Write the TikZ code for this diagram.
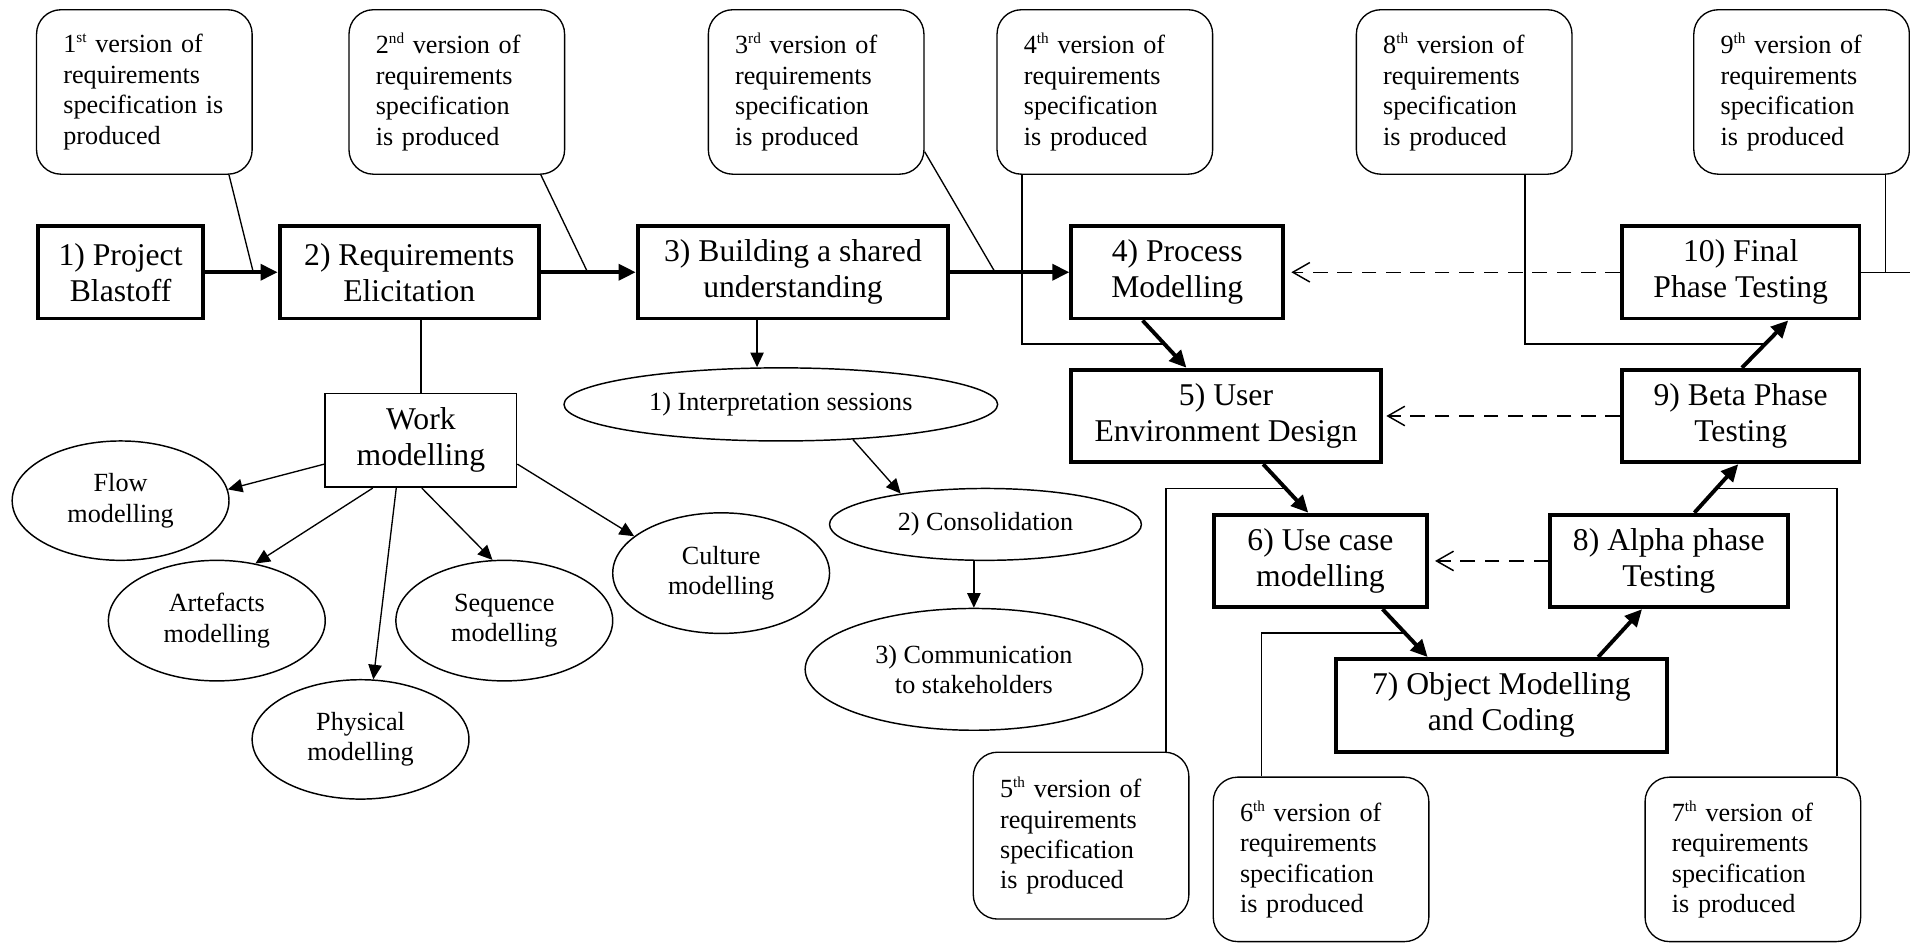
\documentclass[tikz,border=0pt]{standalone}
\usepackage{fontspec}
\setmainfont{Liberation Serif}
\usetikzlibrary{arrows.meta,shapes.geometric,calc}
\newcommand\ordsup[1]{\raisebox{8.5pt}{\fontsize{12.5}{12.5}\selectfont #1}}
\begin{document}
\begin{tikzpicture}[x=1pt,y=-1pt,
  stepbox/.style={draw, line width=3.2pt, minimum width=#1, minimum height=76pt, inner sep=0pt, align=center, font=\fontsize{26}{29.5}\selectfont},
  workbox/.style={draw, line width=1.4pt, minimum width=157pt, minimum height=77pt, inner sep=0pt, align=center, font=\fontsize{26}{29.5}\selectfont},
  callout/.style={draw, line width=1.1pt, rounded corners=20pt, minimum width=177pt, minimum height=#1, text width=133pt, inner xsep=22pt, inner ysep=0pt, align=left, font=\fontsize{21.5}{25}\selectfont},
  oval/.style={draw, ellipse, line width=1.2pt, inner sep=0pt, align=center, font=\fontsize{21.5}{25}\selectfont},
  flowarrow/.style={line width=3.2pt, -{Triangle[length=14pt,width=13pt]}},
  thinarrow/.style={line width=1.1pt, -{Triangle[length=12pt,width=11pt]}},
  backarrow/.style={line width=1.2pt, dash pattern=on 12pt off 8pt, -{Straight Barb[length=14pt,width=16pt]}},
  link/.style={line width=1.1pt}
]
\useasboundingbox (0,0) rectangle (1568,775);

% callouts
\node[callout=135pt] (c1) at (118.5,75.5) {1\ordsup{st} version of\\requirements\\specification is\\produced};
\node[callout=135pt] (c2) at (375,75.5) {2\ordsup{nd} version of\\requirements\\specification\\is produced};
\node[callout=135pt] (c3) at (670,75.5) {3\ordsup{rd} version of\\requirements\\specification\\is produced};
\node[callout=135pt] (c4) at (907,75.5) {4\ordsup{th} version of\\requirements\\specification\\is produced};
\node[callout=135pt] (c8) at (1202,75.5) {8\ordsup{th} version of\\requirements\\specification\\is produced};
\node[callout=135pt] (c9) at (1479,75.5) {9\ordsup{th} version of\\requirements\\specification\\is produced};
\node[callout=137pt] (c5) at (887.5,686) {5\ordsup{th} version of\\requirements\\specification\\is produced};
\node[callout=135pt] (c6) at (1084.5,705.5) {6\ordsup{th} version of\\requirements\\specification\\is produced};
\node[callout=135pt] (c7) at (1439,705.5) {7\ordsup{th} version of\\requirements\\specification\\is produced};

% process boxes
\node[stepbox=135pt] (b1) at (99,223.5) {1) Project\\Blastoff};
\node[stepbox=213pt] (b2) at (336,223.5) {2) Requirements\\Elicitation};
\node[stepbox=255pt] (b3) at (651,223.5) {3) Building a shared\\understanding};
\node[stepbox=174pt] (b4) at (966.5,223.5) {4) Process\\Modelling};
\node[stepbox=195pt] (b10) at (1429,223.5) {10) Final\\Phase Testing};
\node[stepbox=254pt] (b5) at (1006.5,341.5) {5) User\\Environment Design};
\node[stepbox=195pt] (b9) at (1429,341.5) {9) Beta Phase\\Testing};
\node[stepbox=175pt] (b6) at (1084,460.5) {6) Use case\\modelling};
\node[stepbox=195pt] (b8) at (1370,460.5) {8) Alpha phase\\Testing};
\node[stepbox=272pt] (b7) at (1232.5,579) {7) Object Modelling\\and Coding};

% work modelling
\node[workbox] (work) at (345.5,361.5) {Work\\modelling};
\node[oval, minimum width=178pt, minimum height=98pt] (flow) at (99,411) {Flow\\modelling};
\node[oval, minimum width=178pt, minimum height=99pt] (art) at (178,509.5) {Artefacts\\modelling};
\node[oval, minimum width=178pt, minimum height=98pt] (phys) at (296,607) {Physical\\modelling};
\node[oval, minimum width=178pt, minimum height=99pt] (seq) at (414,509.5) {Sequence\\modelling};
\node[oval, minimum width=178pt, minimum height=99pt] (cult) at (592,470.5) {Culture\\modelling};

% shared understanding
\node[oval, minimum width=356pt, minimum height=60pt] (interp) at (641,332) {1) Interpretation sessions};
\node[oval, minimum width=256pt, minimum height=59pt] (consol) at (809,430.5) {2) Consolidation};
\node[oval, minimum width=277pt, minimum height=100pt] (comm) at (799.5,549.5) {3) Communication\\to stakeholders};

% main flow
\draw[flowarrow] (b1) -- (b2);
\draw[flowarrow] (b2) -- (b3);
\draw[flowarrow] (b3) -- (b4);

\coordinate (s45) at ([xshift=-28.5pt]b4.south);
\coordinate (e45) at ([xshift=-32.5pt]b5.north);
\coordinate (s56) at ([xshift=30.5pt]b5.south);
\coordinate (e56) at ([xshift=-10pt]b6.north);
\coordinate (s67) at ([xshift=51pt]b6.south);
\coordinate (e67) at ([xshift=-60.5pt]b7.north);
\coordinate (s78) at ([xshift=79.5pt]b7.north);
\coordinate (e78) at ([xshift=-22pt]b8.south);
\coordinate (s89) at ([xshift=21pt]b8.north);
\coordinate (e89) at ([xshift=-2pt]b9.south);
\coordinate (s910) at ([xshift=1pt]b9.north);
\coordinate (e910) at ([xshift=39pt]b10.south);

\draw[flowarrow] (s45) -- (e45);
\draw[flowarrow] (s56) -- (e56);
\draw[flowarrow] (s67) -- (e67);
\draw[flowarrow] (s78) -- (e78);
\draw[flowarrow] (s89) -- (e89);
\draw[flowarrow] (s910) -- (e910);

\coordinate (m45) at ($(s45)!0.5!(e45)$);
\coordinate (m56) at ($(s56)!0.5!(e56)$);
\coordinate (m67) at ($(s67)!0.5!(e67)$);
\coordinate (m89) at ($(s89)!0.5!(e89)$);
\coordinate (m910) at ($(s910)!0.5!(e910)$);

% callout links
\coordinate (m12) at ([xshift=-20pt]b2.west);
\coordinate (m23) at ([xshift=-39.5pt]b3.west);
\coordinate (m34) at ([xshift=-61pt]b4.west);
\coordinate (redge) at (1568,223.5);
\draw[link] ([xshift=69.5pt]c1.south) -- (m12);
\draw[link] ([xshift=69pt]c2.south) -- (m23);
\draw[link] ([yshift=-49pt]c3.east) -- (m34);
\draw[link] ([xshift=-68pt]c4.south) |- (m45);
\draw[link] ([xshift=50pt]c8.south) |- (m910);
\draw[link] (b10.east) -- (redge);
\draw[link] ([xshift=69pt]c9.south) -- ([xshift=69pt]c9.south |- b10.east);
\draw[link] ([xshift=69.7pt]c5.north) |- (m56);
\draw[link] ([xshift=-49pt]c6.north) |- (m67);
\draw[link] ([xshift=69pt]c7.north) |- (m89);

% feedback
\draw[backarrow] (b10.west) -- ([xshift=5pt]b4.east);
\draw[backarrow] (b9.west) -- ([xshift=3pt]b5.east);
\draw[backarrow] (b8.west) -- ([xshift=5pt]b6.east);

% work modelling links
\draw[link] (work.north) -- (work.north |- b2.south);
\draw[thinarrow] ([yshift=-19.5pt]work.west) -- (flow.6);
\draw[thinarrow] ([xshift=39.7pt]work.south west) -- (art.56);
\draw[thinarrow] ([xshift=59pt]work.south west) -- (phys.78);
\draw[thinarrow] ([xshift=80pt]work.south west) -- (seq.101);
\draw[thinarrow] ([yshift=-19.5pt]work.east) -- (cult.157);

% shared understanding links
\draw[thinarrow] ([xshift=-29.5pt]b3.south) -- ([xshift=-29.5pt]b3.south |- interp.north);
\draw[thinarrow] (interp.-26) -- (consol.160);
\draw[thinarrow] (comm.north |- consol.south) -- (comm.north);
\end{tikzpicture}
\end{document}
